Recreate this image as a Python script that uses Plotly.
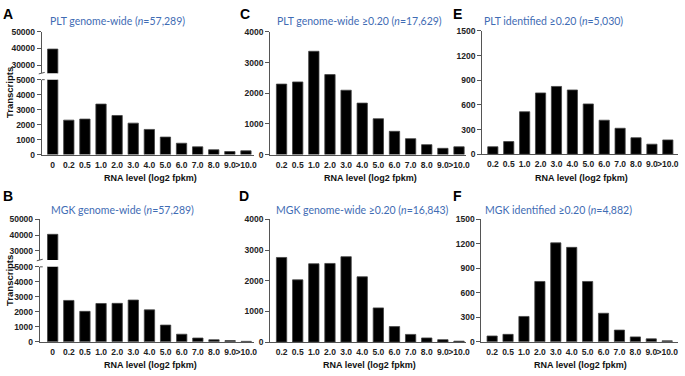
import plotly.graph_objects as go

W, H = 685, 376

cats_all = ["0", "0.2", "0.5", "1.0", "2.0", "3.0", "4.0", "5.0", "6.0", "7.0", "8.0", "9.0", ">10.0"]
cats_pos = cats_all[1:]

plt_genome = [39660, 2300, 2370, 3370, 2610, 2100, 1680, 1170, 760, 520, 325, 205, 255]
mgk_genome = [40446, 2760, 2030, 2555, 2565, 2785, 2130, 1115, 505, 250, 135, 80, 30]
plt_ge020 = [2300, 2370, 3370, 2610, 2100, 1680, 1170, 760, 520, 325, 205, 255]
mgk_ge020 = [2760, 2030, 2555, 2565, 2785, 2130, 1115, 505, 250, 135, 80, 30]
plt_ident = [91, 154, 517, 746, 825, 782, 612, 414, 316, 201, 122, 174]
mgk_ident = [71, 91, 310, 738, 1210, 1155, 738, 349, 143, 60, 36, 12]

titles = {
    "A": "PLT genome-wide (<i>n</i>=57,289)",
    "B": "MGK genome-wide (<i>n</i>=57,289)",
    "C": "PLT genome-wide ≥0.20 (<i>n</i>=17,629)",
    "D": "MGK genome-wide ≥0.20 (<i>n</i>=16,843)",
    "E": "PLT identified ≥0.20 (<i>n</i>=5,030)",
    "F": "MGK identified ≥0.20 (<i>n</i>=4,882)",
}
xtitle = "RNA level (log2 fpkm)"
ytitle = "Transcripts"


def xf(px):
    return px / W


def yf(py):
    return 1 - py / H


AXC = "#555555"
TICKFONT = dict(family="Liberation Sans, Arial", size=8.5, color="#222222", weight="bold")
BARW = 0.64

fig = go.Figure()
layout = dict(
    width=W, height=H, margin=dict(l=0, r=0, t=0, b=0),
    paper_bgcolor="white", plot_bgcolor="white",
    showlegend=False, barmode="overlay",
)


def xaxis_def(dom, rng, cats, anchor):
    return dict(
        domain=[xf(dom[0]), xf(dom[1])], range=rng, type="category",
        categoryorder="array", categoryarray=cats,
        anchor=anchor, showgrid=False, zeroline=False, showline=True,
        linecolor=AXC, linewidth=1, ticks="", tickangle=0, tickfont=TICKFONT,
        ticklabelstandoff=2, fixedrange=True,
    )


def yaxis_def(dom, rng, dtick, anchor, tickvals=None):
    d = dict(
        domain=[yf(dom[1]), yf(dom[0])], range=rng, anchor=anchor,
        showgrid=False, zeroline=False, showline=True, linecolor=AXC,
        linewidth=1, ticks="outside", ticklen=4, tickcolor=AXC, tickwidth=1,
        tickfont=TICKFONT, tickformat="d", fixedrange=True,
    )
    if tickvals is not None:
        d["tickmode"] = "array"
        d["tickvals"] = tickvals
    else:
        d["dtick"] = dtick
        d["tick0"] = 0
    return d


def bars(x, y, xa, ya):
    fig.add_trace(go.Bar(
        x=x, y=y, xaxis=xa, yaxis=ya, width=BARW,
        marker=dict(color="black", line=dict(color="#444444", width=0.8)),
        hoverinfo="x+y",
    ))


# ---- Panel A (broken axis) ----
layout["xaxis"] = xaxis_def((42, 255.5), [-0.68, 12.5], cats_all, "y")
layout["yaxis"] = yaxis_def((76.7, 153.7), [0, 5000], 1000, "x")
layout["yaxis2"] = yaxis_def((27.7, 70), [25100, 50000], None, "x", [30000, 40000, 50000])
bars(cats_all, plt_genome, "x", "y")
bars(cats_all, plt_genome, "x", "y2")

# ---- Panel B (broken axis) ----
layout["xaxis2"] = xaxis_def((40, 255), [-0.8, 12.45], cats_all, "y3")
layout["yaxis3"] = yaxis_def((269, 346), [0, 5000], 1000, "x2")
layout["yaxis4"] = yaxis_def((220.3, 262), [23940, 50000], None, "x2", [30000, 40000, 50000])
bars(cats_all, mgk_genome, "x2", "y3")
bars(cats_all, mgk_genome, "x2", "y4")

# ---- Panel C ----
layout["xaxis3"] = xaxis_def((271.7, 469), [-0.71, 11.45], cats_pos, "y5")
layout["yaxis5"] = yaxis_def((27.7, 153.7), [0, 4000], 1000, "x3")
bars(cats_pos, plt_ge020, "x3", "y5")

# ---- Panel D ----
layout["xaxis4"] = xaxis_def((271.7, 469), [-0.71, 11.45], cats_pos, "y6")
layout["yaxis6"] = yaxis_def((220.3, 346.3), [0, 4000], 1000, "x4")
bars(cats_pos, mgk_ge020, "x4", "y6")

# ---- Panel E ----
layout["xaxis5"] = xaxis_def((485, 682), [-0.67, 11.64], cats_pos, "y7")
layout["yaxis7"] = yaxis_def((26.7, 153.3), [0, 1500], 300, "x5")
bars(cats_pos, plt_ident, "x5", "y7")

# ---- Panel F ----
layout["xaxis6"] = xaxis_def((484.3, 682), [-0.67, 11.68], cats_pos, "y8")
layout["yaxis8"] = yaxis_def((220, 346), [0, 1500], 300, "x6")
bars(cats_pos, mgk_ident, "x6", "y8")

annotations = []
TITLEFONT = dict(family="Lato, Open Sans, sans-serif", size=10.5, color="#3F6CB4")
XTFONT = dict(family="Liberation Sans, Arial", size=9, color="#111111", weight="bold")
LETFONT = dict(family="Liberation Sans, Arial", size=14, color="black", weight="bold")

title_pos = {"A": (118, 16), "C": (362, 16), "E": (557, 16),
             "B": (123, 210.7), "D": (364.5, 210.7), "F": (562, 210.7)}
letter_pos = {"A": (8, 9), "C": (246, 9), "E": (460, 9),
              "B": (8, 196), "D": (245, 196), "F": (460, 196)}
xt_pos = {"A": (151.7, 177.3), "C": (373, 177.3), "E": (585, 177.3),
          "B": (151.7, 369.5), "D": (371.7, 369.5), "F": (584, 369.5)}

for k in "ABCDEF":
    tx, ty = title_pos[k]
    annotations.append(dict(text=titles[k], x=xf(tx), y=yf(ty), xref="paper", yref="paper",
                            showarrow=False, xanchor="center", yanchor="middle", font=TITLEFONT))
    lx, ly = letter_pos[k]
    annotations.append(dict(text=k, x=xf(lx), y=yf(ly), xref="paper", yref="paper",
                            showarrow=False, xanchor="center", yanchor="middle", font=LETFONT))
    ax_, ay_ = xt_pos[k]
    annotations.append(dict(text=xtitle, x=xf(ax_), y=yf(ay_), xref="paper", yref="paper",
                            showarrow=False, xanchor="center", yanchor="middle", font=XTFONT))

for (yx, yy) in [(9.5, 90), (9.5, 283)]:
    annotations.append(dict(text=ytitle, x=xf(yx), y=yf(yy), xref="paper", yref="paper",
                            showarrow=False, textangle=-90, xanchor="center", yanchor="middle",
                            font=dict(family="Liberation Sans, Arial", size=9.5, color="#111111",
                                      weight="bold")))

layout["annotations"] = annotations

# axis break marks
shapes = []
for (axx, ytop_end, ybot_start) in [(42, 70, 76.7), (40, 262, 269)]:
    shapes.append(dict(type="line", xref="paper", yref="paper",
                       x0=xf(axx - 3), x1=xf(axx + 3), y0=yf(ytop_end + 0.8), y1=yf(ytop_end - 0.8),
                       line=dict(color=AXC, width=1)))
    shapes.append(dict(type="line", xref="paper", yref="paper",
                       x0=xf(axx), x1=xf(axx + 3), y0=yf(ybot_start), y1=yf(ybot_start),
                       line=dict(color=AXC, width=1)))
layout["shapes"] = shapes

fig.update_layout(**layout)
fig.write_html("out.html", config={"displayModeBar": False},
               post_script="document.body.style.margin='0';document.body.style.overflow='hidden';")
